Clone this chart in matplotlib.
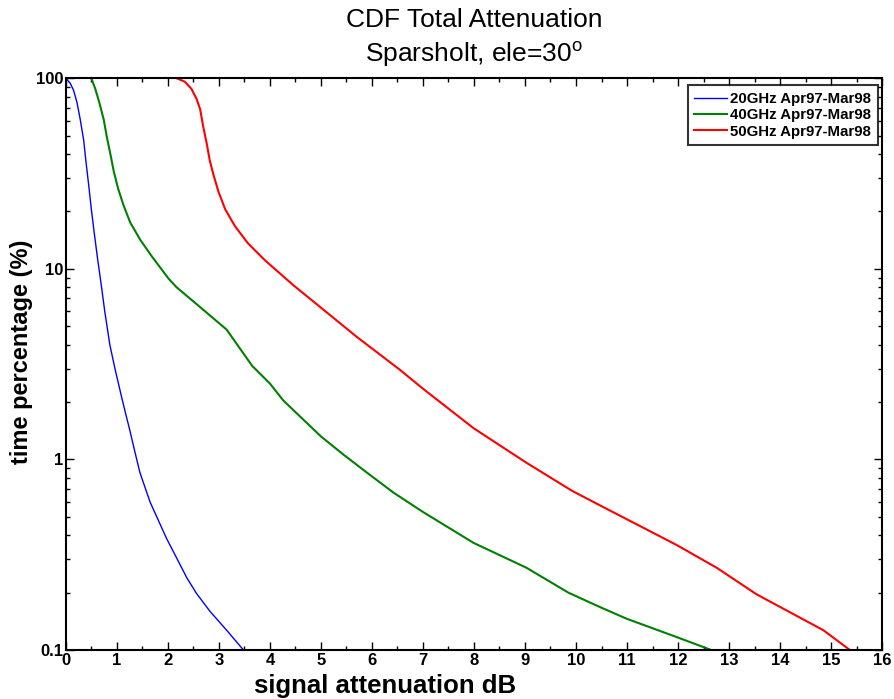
import numpy as np
import matplotlib
matplotlib.use('Agg')
import matplotlib.pyplot as plt
from matplotlib.ticker import FixedLocator, LogLocator, NullFormatter, MultipleLocator

plt.rcParams['font.family'] = ['Liberation Sans', 'DejaVu Sans']
plt.rcParams['mathtext.fontset'] = 'custom'
plt.rcParams['mathtext.rm'] = 'Liberation Sans'

# curvas (atenuacion dB, porcentaje de tiempo)
att_20 = [0.0, 0.085, 0.15, 0.216, 0.28, 0.347, 0.39, 0.445, 0.497, 0.555,
          0.62, 0.69, 0.76, 0.86, 0.96, 1.09, 1.17, 1.25, 1.35, 1.45, 1.65,
          1.78, 1.97, 2.17, 2.37, 2.56, 2.82, 3.15, 3.48]
pct_20 = [100, 94, 86.4, 74.7, 60.8, 47.4, 37, 27.6, 20.6, 15.4,
          11.3, 8.3, 6.0, 4.0, 3.0, 2.13, 1.74, 1.43, 1.1, 0.853, 0.597,
          0.50, 0.386, 0.304, 0.239, 0.198, 0.16, 0.127, 0.1]

att_40 = [0.497, 0.575, 0.653, 0.74, 0.80, 0.87, 0.935, 1.02, 1.13, 1.26,
          1.457, 1.686, 2.01, 2.17, 2.63, 3.15, 3.65, 4.0, 4.26, 5.0, 5.44,
          5.90, 6.42, 7.0, 7.99, 9.03, 9.85, 10.47, 10.99, 11.97, 12.65]
pct_40 = [100, 88, 74.7, 60.8, 49.4, 40.1, 32.7, 26.5, 21.5, 17.5,
          14.2, 11.6, 8.9, 8.0, 6.3, 4.8, 3.1, 2.5, 2.04, 1.32, 1.06,
          0.853, 0.67, 0.53, 0.365, 0.27, 0.2, 0.168, 0.146, 0.117, 0.1]

att_50 = [2.17, 2.33, 2.46, 2.56, 2.63, 2.69, 2.76, 2.82, 2.89, 2.99, 3.12,
          3.31, 3.57, 3.90, 4.46, 5.05, 5.70, 6.55, 7.0, 7.99, 9.03,
          9.92, 10.47, 11.97, 12.76, 13.54, 14.85, 15.37]
pct_50 = [100, 96, 88, 78, 68.9, 56, 45.4, 37, 31.3, 25.4, 20.6,
          16.8, 13.6, 11.1, 8.2, 6.1, 4.4, 2.95, 2.35, 1.46, 0.96,
          0.685, 0.574, 0.356, 0.27, 0.196, 0.127, 0.1]

etiquetas = ['20GHz Apr97-Mar98', '40GHz Apr97-Mar98', '50GHz Apr97-Mar98']

fig = plt.figure(figsize=(8.95, 6.99), dpi=100)
ax = fig.add_axes([0.0737, 0.0701, 0.9118, 0.8179])

ax.plot(att_20, pct_20, color='#0000ff', lw=1.0, label=etiquetas[0])
ax.plot(att_40, pct_40, color='#008000', lw=1.5, label=etiquetas[1])
ax.plot(att_50, pct_50, color='#ff0000', lw=1.5, label=etiquetas[2])

ax.set_yscale('log')
ax.set_xlim(0, 16)
ax.set_ylim(0.1, 100)
ax.xaxis.set_major_locator(MultipleLocator(1))
ax.xaxis.set_minor_locator(MultipleLocator(0.5))
ax.yaxis.set_major_locator(FixedLocator([0.1, 1, 10, 100]))
ax.yaxis.set_minor_locator(LogLocator(base=10, subs=np.arange(2, 10)))
ax.yaxis.set_minor_formatter(NullFormatter())
ax.set_yticklabels(['0.1', '1', '10', '100'])

ax.tick_params(which='both', direction='in', top=True, right=True, width=1.0)
ax.tick_params(which='major', length=6, labelsize=12, pad=2)
ax.tick_params(which='minor', length=3)
for lbl in ax.get_xticklabels() + ax.get_yticklabels():
    lbl.set_fontweight('bold')
for s in ax.spines.values():
    s.set_linewidth(1.5)

ax.set_xlabel('signal attenuation dB', fontsize=18.5, fontweight='bold')
ax.xaxis.set_label_coords(0.391, -0.042)
ax.set_ylabel('time percentage (%)', fontsize=17, fontweight='bold')
ax.yaxis.set_label_coords(-0.040, 0.522)
ax.set_title('CDF Total Attenuation\nSparsholt, ele=30$^\\mathrm{o}$', fontsize=19,
             linespacing=1.3, pad=12)

leg = ax.legend(loc='upper right', bbox_to_anchor=(0.9951, 0.9878),
                prop={'weight': 'bold', 'size': 10.8},
                frameon=True, fancybox=False, borderaxespad=0.0,
                handlelength=2.2, handletextpad=0.2, labelspacing=0.15,
                borderpad=0.45)
leg.get_frame().set_edgecolor('black')
leg.get_frame().set_linewidth(1.5)

fig.savefig('out.png', dpi=100)
